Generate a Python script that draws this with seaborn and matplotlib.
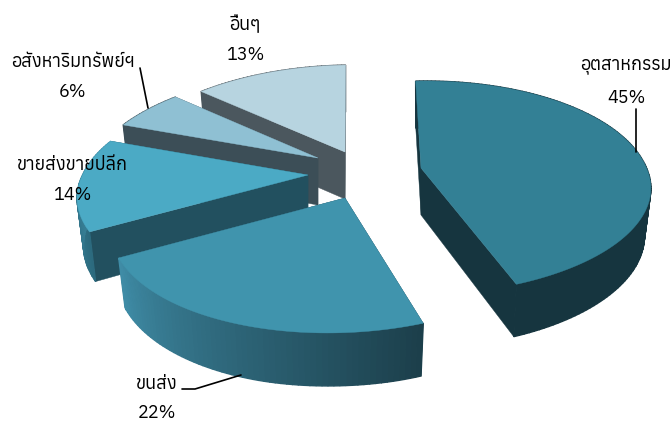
import numpy as np
import matplotlib
matplotlib.use("Agg")
import matplotlib.pyplot as plt
import seaborn as sns
from matplotlib import font_manager as fm
from matplotlib.patches import Polygon
from matplotlib.ft2font import FT2Font

sns.set_theme(style="white")

# Data
categories = ["อุตสาหกรรม", "ขนส่ง", "ขายส่งขายปลีก", "อสังหาริมทรัพย์ฯ", "อื่นๆ"]
values = [45, 22, 14, 6, 13]

# Colours per slice (top, flat wall, outer wall start, outer wall end)
top_colors = ["#338095", "#4094AD", "#4BAAC5", "#8FC0D3", "#B7D4E0"]
wall_colors = ["#16353F", "#1F4655", "#22505F", "#3C4E57", "#4B575E"]
outer_from = ["#16353F", "#1C3F4B", "#2C6A7E", "#3C4E57", "#4B575E"]
outer_to = ["#16353F", "#3F8CA6", "#3F8FA8", "#3C4E57", "#4B575E"]

# Layout: where each slice's tip sits on the canvas, in pixels
tips_x = [421, 345, 308, 318, 345]
tips_y = [168, 198, 175, 158, 152]
shears = [-0.05, -0.13, 0, -0.1, -0.1]
front_y = [0.94, 1, 0.95, 1, 1]
nudges = [0, 1.5, 1.5, 1, 0.5]
draw_order = [4, 3, 2, 0, 1]

# Perspective of the pie
start_angle = -3
rx, ry, persp = 225.5, 105.8, 0.216
depth, shrink = 47, 0.972


def project(theta, i, lower=False):
    u, v = np.sin(theta), -np.cos(theta)
    den = 1 - persp * v
    x, y = rx * u / den, ry * v / den
    y = np.where(y > 0, y * front_y[i], y)
    x = x + shears[i] * y
    if lower:
        return tips_x[i] + x * shrink, tips_y[i] + y + depth + 6 * np.clip(y / 130, 0, 1)
    return tips_x[i] + x, tips_y[i] + y


fig = plt.figure(figsize=(6.71, 4.21), dpi=100)
ax = fig.add_axes([0, 0, 1, 1])
ax.set_xlim(0, 671)
ax.set_ylim(421, 0)
ax.axis("off")

# Slice angles from the values
fracs = np.array(values) / np.sum(values)
edges = start_angle + 360 * np.concatenate([[0], np.cumsum(fracs)])

for z, i in enumerate(draw_order):
    tx, ty = tips_x[i], tips_y[i]
    angles = np.radians(np.linspace(edges[i], edges[i + 1], max(int(values[i] * 3), 12)) + nudges[i])
    top_x, top_y = project(angles, i)
    low_x, low_y = project(angles, i, lower=True)

    # the two straight walls
    for k in [0, -1]:
        ax.add_patch(Polygon([(tx, ty), (top_x[k], top_y[k]), (low_x[k], low_y[k]), (tx, ty + depth)],
                             fc=wall_colors[i], ec=wall_colors[i], lw=0.3, zorder=z))

    # outer wall, strip by strip so the shading runs along it
    shades = sns.blend_palette([outer_from[i], outer_to[i]], len(angles) - 1)
    for j, col in enumerate(shades):
        ax.fill([top_x[j], top_x[j + 1], low_x[j + 1], low_x[j]],
                [top_y[j], top_y[j + 1], low_y[j + 1], low_y[j]],
                color=col, lw=1, zorder=z)

    # top face
    ax.fill(np.r_[tx, top_x], np.r_[ty, top_y], color=top_colors[i], lw=0.3, zorder=z)

# Labels, in the first installed family that has Thai letters
thai = []
for f in fm.fontManager.ttflist:
    try:
        if 0x0E01 in FT2Font(f.fname).get_charmap():
            thai.append(f.name)
    except Exception:
        pass
plt.rcParams["font.family"] = sorted(set(thai))[:1] + ["DejaVu Sans"]

name_x = [626, 157, 72, 73, 245]
name_y = [65, 384, 165, 62, 25]
pct_y = [98, 413, 195, 92, 55]
for i, cat in enumerate(categories):
    ax.text(name_x[i], name_y[i], cat, ha="center", va="center", fontsize=13, color="black", zorder=20)
    ax.text(name_x[i], pct_y[i], f"{values[i]}%", ha="center", va="center", fontsize=13, color="black", zorder=20)

# Leader lines
ax.plot([636, 636], [109, 152], color="black", lw=1.2, zorder=20)
ax.plot([140, 148], [68, 108], color="black", lw=1.2, zorder=20)
ax.plot([182, 195, 241], [389, 389, 375], color="black", lw=1.2, zorder=20)

fig.savefig("out.png", dpi=100)
